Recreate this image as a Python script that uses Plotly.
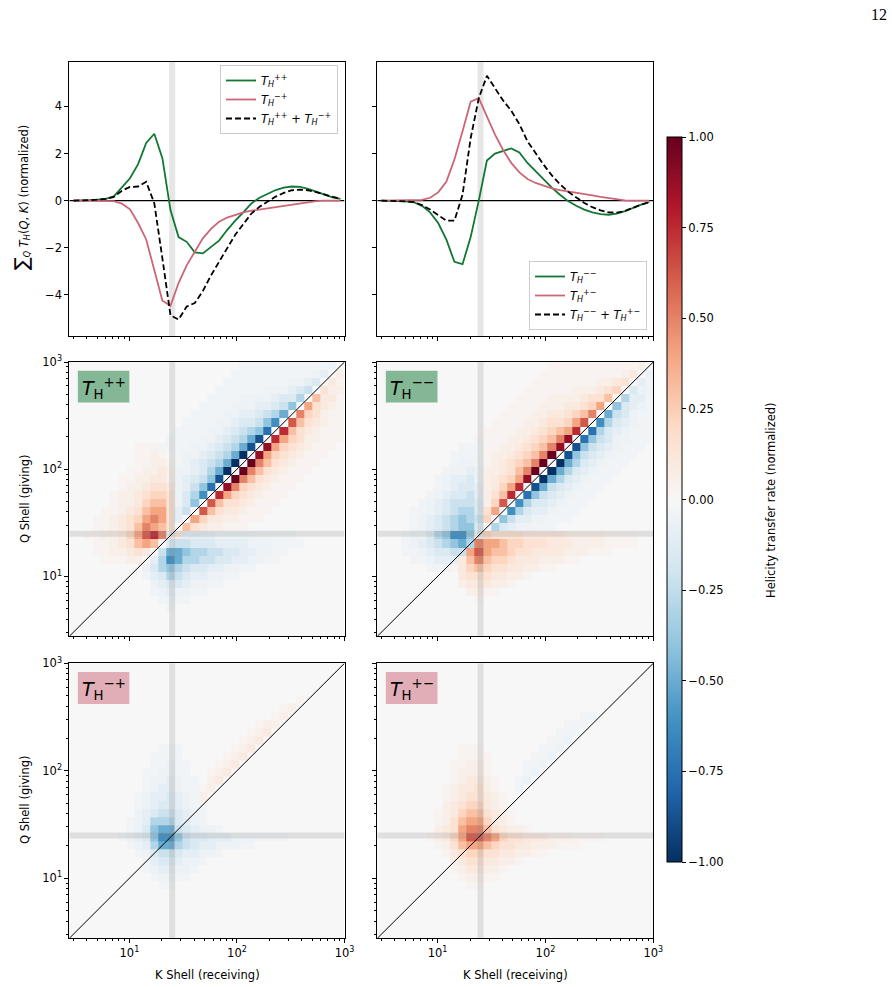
import math
import plotly.graph_objects as go

# ---------------- data ----------------
# shell bin edges (K and Q shells, log spaced) and shell centres
shell_edges = [2.762, 3.285, 3.906, 4.645, 5.524, 6.570, 7.813, 9.291, 11.05, 13.14,
               15.63, 18.58, 22.10, 26.28, 31.25, 37.16, 44.19, 52.56, 62.50, 74.33,
               88.39, 105.1, 125.0, 148.7, 176.8, 210.2, 250.0, 297.3, 353.6, 420.4,
               500.0, 594.6, 707.1, 840.9, 1000.0]
shell_centers = [3.012, 3.582, 4.259, 5.065, 6.024, 7.164, 8.520, 10.13, 12.05, 14.33,
                 17.04, 20.26, 24.10, 28.66, 34.08, 40.53, 48.19, 57.31, 68.16, 81.06,
                 96.39, 114.6, 136.3, 162.1, 192.8, 229.3, 272.6, 324.2, 385.6, 458.5,
                 545.3, 648.4, 771.1, 917.0]
forcing_k = 25.0

# sum over Q of T_H(Q,K), normalized
T_pp_sum = [0.0, 0.0, 0.02, 0.04, 0.07, 0.18, 0.55, 0.95, 1.55, 2.45, 2.84, 1.8, -0.4,
            -1.55, -1.75, -2.2, -2.24, -1.98, -1.7, -1.25, -0.85, -0.5, -0.12, 0.12,
            0.3, 0.45, 0.55, 0.6, 0.58, 0.5, 0.38, 0.26, 0.14, 0.07]
T_mp_sum = [0.0, 0.0, 0.0, 0.0, 0.0, -0.02, -0.13, -0.37, -0.95, -1.65, -2.95, -4.25,
            -4.47, -3.5, -2.75, -2.15, -1.6, -1.2, -0.9, -0.72, -0.6, -0.5, -0.43,
            -0.38, -0.33, -0.28, -0.22, -0.16, -0.11, -0.06, -0.02, 0.0, 0.0, 0.0]
T_mm_sum = [0.0, 0.0, 0.0, -0.03, -0.07, -0.22, -0.5, -0.95, -1.65, -2.6, -2.7, -1.55,
            0.0, 1.7, 2.0, 2.1, 2.22, 2.05, 1.6, 1.25, 0.9, 0.55, 0.25, -0.02, -0.22,
            -0.38, -0.5, -0.57, -0.6, -0.55, -0.45, -0.3, -0.17, -0.07]
T_pm_sum = [0.0, 0.0, 0.0, 0.0, 0.01, 0.03, 0.12, 0.35, 0.8, 1.75, 2.95, 4.2, 4.35,
            3.6, 2.8, 2.15, 1.6, 1.2, 0.92, 0.75, 0.62, 0.52, 0.45, 0.4, 0.35, 0.28,
            0.22, 0.16, 0.1, 0.04, 0.01, 0.0, 0.0, 0.0]

# level key for the shell-to-shell maps (upper case = positive, lower case = negative)
level_key = {'.': 0.0,
             'A': 0.03, 'B': 0.06, 'C': 0.10, 'D': 0.15, 'E': 0.22, 'F': 0.30,
             'G': 0.40, 'H': 0.50, 'I': 0.62, 'J': 0.75, 'K': 0.88, 'L': 1.0,
             'a': -0.03, 'b': -0.06, 'c': -0.10, 'd': -0.15, 'e': -0.22, 'f': -0.30,
             'g': -0.40, 'h': -0.50, 'i': -0.62, 'j': -0.75, 'k': -0.88, 'l': -1.0}

# rows: top (largest Q shell) to bottom; columns: K shells left to right
grid_pp = [
    ".....................aaaaaaaaaaab.",
    "....................aaaaaaaaaabc.B",
    "...................aaaaaaaabbcd.CA",
    "..................aaaaaabbbcde.DBB",
    ".................aaaabbbbcddf.FCCA",
    "................aaaabbbccdeg.GDCBA",
    "...............aaaabbccdefh.HEDBAA",
    "..............aaaabbcddegi.IFDCBAA",
    ".............aaaabbcdefgj.JFDCBAAA",
    "............aaaabbcdefhk.JGEDBBAAA",
    "........AAAaaaabbcdefhk.KGEDCBAAA.",
    "........AABA.abbcdefhl.KGEDCBAAA..",
    "........AABBAabcdefhl.LHFDCBAAA...",
    ".......AABBCBbbcdfhl.LHFDCBAAA....",
    "......AABBCCBbcdegk.LHFDCBAAA.....",
    "......ABBCDDCbcegj.KHEDCBAAA......",
    ".....ABBCDEEDbdfi.JGEDCBAAA.......",
    ".....ABBCEFFDbdg.IFDDCBAAA........",
    "....AABCDFGGDce.IFDCCBAAA.........",
    "...AABCDEGHGDc.GECCBBAAA..........",
    "...AABCDFHGFD.FDCBBAAA............",
    "..AABBCEGIJH.Cccccbbbbbaaaaa......",
    "...AABCDFGF.deedddccccbbbaaaa.....",
    "...AABBCDC.ehhgffeeddccbbaa.......",
    "....AAABB.cfihffeeddccbbaa........",
    ".........bdfgfeddccbbaa...........",
    ".........acdfedccbbaa.............",
    "..........bcddcbbaa...............",
    "..........abcbbaa.................",
    "...........abaa...................",
    "............a.....................",
    "..................................",
    "..................................",
    "..................................",
]
grid_mm = [
    ".....................AAAAAAAAAAAB.",
    "....................AAAAAAAAAABC.b",
    "...................AAAAAAAABBCD.ca",
    "..................AAAAAABBBCDE.dbb",
    ".................AAAABBBBCDDF.fcca",
    "................AAAABBBCCDEG.gdcba",
    "...............AAAABBCCDEFH.hedbaa",
    "..............AAAABBCDDEGI.ifdcbaa",
    ".............AAAABBCDEFGJ.jfdcbaaa",
    "............AAAABBCDEFHK.jgedbbaaa",
    "..........aaaAABBCDEFHK.kgedcbaaa.",
    ".........aaaaABBCDEFHL.kgedcbaaa..",
    ".........abbaABCDEFHL.lhfdcbaaa...",
    "........abbcbBBCDFHL.lhfdcbaaa....",
    ".......abccdbBCDEGK.lhfdcbaaa.....",
    ".......abcddcBCEGJ.khedcbaaa......",
    "......abcddecBDFJ.jgedcbaaa.......",
    ".....abcdeeedBEI.ifddcbaaa........",
    "....aabcdeffdDG.ifdccbaaa.........",
    "....abcdefgfeE.geccbbaaa..........",
    "....abcdefggd.fdcbbaaa............",
    "...abbdfgiig.EDDDDCCCCCBBBBBAAAA..",
    "...abcdefghfHGGFEEDDDCCCBBBBAAAA..",
    "...aabcddeeGIGFFEDDCCCCBBBAAA.....",
    "....aabcccCFHFEEDCCCBBBAA.........",
    "......aabACEFEDDCCBBAA............",
    "..........CDDDCCBBA...............",
    "..........BCCCBBA.................",
    "...........BBAA...................",
    "............A.....................",
    "..................................",
    "..................................",
    "..................................",
    "..................................",
]
grid_mp = [
    "..................................",
    "..................................",
    "..................................",
    "..................................",
    "............................A.....",
    "..........................AB......",
    ".........................AB.......",
    ".......................ABB........",
    "......................ABC.........",
    ".....................ABC..........",
    "...........aaa......ABC...........",
    "..........aaaa.....ABC............",
    "..........aabaa...ABC.............",
    ".........aabbaa..ABC..............",
    ".........abbcbaa.BC...............",
    ".........abccbaaAB................",
    "........abccdcbaB.................",
    "........abcddcbaa.................",
    "........bcdeedcba.................",
    ".......abcfffdcba.................",
    ".......abdghhedcbba...............",
    "......abcdgiigeddcccbbbaaaa.......",
    ".......abcfhhfedccbbbaa...........",
    "........abdeedccbba...............",
    ".........acddcbba.................",
    ".........abccbba..................",
    "..........abbaa...................",
    "...........aa.....................",
    "..................................",
    "..................................",
    "..................................",
    "..................................",
    "..................................",
    "..................................",
]
grid_pm = [
    "..................................",
    "..................................",
    "..................................",
    "..................................",
    "..................................",
    "..................................",
    ".........................aa.......",
    ".......................aaa........",
    "......................aaa.........",
    ".....................aab..........",
    "..........AAA.......aab...........",
    "..........AAAA.....aab............",
    ".........AABBA....aab.............",
    ".........ABBBA....ab..............",
    ".........ABCCBA..ab...............",
    "........ABCCDBA..a................",
    "........ABCDDCBA..................",
    "........BCDEECBA..................",
    ".......ABCEFFDCBA.................",
    ".......ABDFGGECBA.................",
    ".......BCDGHHFDCBBA...............",
    "......ABCEGIIHGEDDCCCBBBAAAA......",
    ".......ABDFGGFEDDCCBBBAAA.........",
    "........ACDEEDDCCBBAA.............",
    ".........BCDDCCBBA................",
    ".........ABCCBBA..................",
    "..........ABBAA...................",
    "...........AA.....................",
    "..................................",
    "..................................",
    "..................................",
    "..................................",
    "..................................",
    "..................................",
]

colorbar_ticks = [-1.0, -0.75, -0.5, -0.25, 0.0, 0.25, 0.5, 0.75, 1.0]
log_major_ticks = [10, 100, 1000]
log_major_text = ["10<sup>1</sup>", "10<sup>2</sup>", "10<sup>3</sup>"]
log_minor_ticks = [3, 4, 5, 6, 7, 8, 9, 20, 30, 40, 50, 60, 70, 80, 90,
                   200, 300, 400, 500, 600, 700, 800, 900]
line_y_ticks = [-4, -2, 0, 2, 4]
line_y_range = [-5.75, 5.9]

# ---------------- styling ----------------
W, H = 892, 987
FONT = "DejaVu Sans"
FS = 11.5
GREEN = "#117733"
ROSE = "#CC6677"
BAND = "rgba(128,128,128,0.2)"
RDBU_R = [[0.0, "#053061"], [0.1, "#2166ac"], [0.2, "#4393c3"], [0.3, "#92c5de"],
          [0.4, "#d1e5f0"], [0.5, "#f7f7f7"], [0.6, "#fddbc7"], [0.7, "#f4a582"],
          [0.8, "#d6604d"], [0.9, "#b2182b"], [1.0, "#67001f"]]


def fmt_minus(v, f="{:.2f}"):
    s = f.format(v)
    return s.replace("-", "\u2212")


def decode(rows):
    z = []
    for r in reversed(rows):
        r = (r + "." * 34)[:34]
        z.append([level_key.get(c, 0.0) for c in r])
    return z


xdom = {1: [69.3 / W, 344.5 / W], 2: [377.3 / W, 653.3 / W]}
ydom = {1: [1 - 336.0 / H, 1 - 61.7 / H],
        2: [1 - 636.3 / H, 1 - 362.0 / H],
        3: [1 - 938.3 / H, 1 - 663.3 / H]}
log_range = [math.log10(shell_edges[0]), math.log10(shell_edges[-1])]

fig = go.Figure()


def th(sup, italic_h=True):
    h = "<i>H</i>" if italic_h else "H"
    return "<i>T</i><sub>%s</sub><sup>%s</sup>" % (h, sup)


# ---- top row: line plots ----
def line_panel(n, a_vals, b_vals, a_lab, b_lab, legend):
    xa, ya = "x%d" % n, "y%d" % n
    fig.add_trace(go.Scatter(x=[forcing_k, forcing_k], y=line_y_range, mode="lines",
                             line=dict(color=BAND, width=6), showlegend=False,
                             hoverinfo="skip", xaxis=xa, yaxis=ya))
    fig.add_trace(go.Scatter(x=[shell_edges[0], shell_edges[-1]], y=[0, 0], mode="lines",
                             line=dict(color="black", width=1.2), showlegend=False,
                             hoverinfo="skip", xaxis=xa, yaxis=ya))
    fig.add_trace(go.Scatter(x=shell_centers, y=a_vals, mode="lines", name=th(a_lab),
                             line=dict(color=GREEN, width=1.8), legend=legend,
                             xaxis=xa, yaxis=ya))
    fig.add_trace(go.Scatter(x=shell_centers, y=b_vals, mode="lines", name=th(b_lab),
                             line=dict(color=ROSE, width=1.8), legend=legend,
                             xaxis=xa, yaxis=ya))
    total = [p + q for p, q in zip(a_vals, b_vals)]
    fig.add_trace(go.Scatter(x=shell_centers, y=total, mode="lines",
                             name=th(a_lab) + " + " + th(b_lab),
                             line=dict(color="black", width=1.8, dash="6px,3px"),
                             legend=legend, xaxis=xa, yaxis=ya))


line_panel(1, T_pp_sum, T_mp_sum, "++", "\u2212+", "legend")
line_panel(2, T_mm_sum, T_pm_sum, "\u2212\u2212", "+\u2212", "legend2")

# ---- heatmaps ----
heat = {3: grid_pp, 4: grid_mm, 5: grid_mp, 6: grid_pm}
for n, g in heat.items():
    xa, ya = "x%d" % n, "y%d" % n
    fig.add_trace(go.Heatmap(z=decode(g), x=shell_edges, y=shell_edges,
                             coloraxis="coloraxis", xaxis=xa, yaxis=ya,
                             hoverinfo="skip"))
    fig.add_trace(go.Scatter(x=[forcing_k, forcing_k], y=[shell_edges[0], shell_edges[-1]],
                             mode="lines", line=dict(color=BAND, width=6),
                             showlegend=False, hoverinfo="skip", xaxis=xa, yaxis=ya))
    fig.add_trace(go.Scatter(x=[shell_edges[0], shell_edges[-1]], y=[forcing_k, forcing_k],
                             mode="lines", line=dict(color=BAND, width=6),
                             showlegend=False, hoverinfo="skip", xaxis=xa, yaxis=ya))
    fig.add_trace(go.Scatter(x=[shell_edges[0], shell_edges[-1]],
                             y=[shell_edges[0], shell_edges[-1]],
                             mode="lines", line=dict(color="black", width=1),
                             showlegend=False, hoverinfo="skip", xaxis=xa, yaxis=ya))

# ---- axes ----
common = dict(showline=True, linecolor="black", linewidth=1, mirror=True,
              ticks="outside", ticklen=4, tickwidth=1, tickcolor="black",
              showgrid=False, zeroline=False, automargin=False,
              tickfont=dict(family=FONT, size=FS, color="black"))
minor = dict(tickmode="array", tickvals=log_minor_ticks, ticks="outside",
             ticklen=2, tickwidth=0.8, tickcolor="black", showgrid=False)

layout_axes = {}
for n in range(1, 7):
    row = (n - 1) // 2 + 1
    col = (n - 1) % 2 + 1
    xk = "xaxis" if n == 1 else "xaxis%d" % n
    yk = "yaxis" if n == 1 else "yaxis%d" % n
    layout_axes[xk] = dict(common, type="log", range=log_range, domain=xdom[col],
                           anchor="y%d" % n if n > 1 else "y",
                           tickmode="array", tickvals=log_major_ticks,
                           ticktext=log_major_text, minor=minor,
                           showticklabels=(row == 3))
    if row == 1:
        layout_axes[yk] = dict(common, type="linear", range=line_y_range,
                               domain=ydom[row], anchor="x%d" % n if n > 1 else "x",
                               tickmode="array", tickvals=line_y_ticks,
                               ticktext=[fmt_minus(v, "{:d}") for v in line_y_ticks],
                               showticklabels=(col == 1))
    else:
        layout_axes[yk] = dict(common, type="log", range=log_range,
                               domain=ydom[row], anchor="x%d" % n,
                               tickmode="array", tickvals=log_major_ticks,
                               ticktext=log_major_text, minor=minor,
                               showticklabels=(col == 1))

fig.update_layout(**layout_axes)

# ---- annotations & shapes ----
ann = []
shapes = []


def ptxt(text, x, y, size=FS, angle=0, family=FONT, **kw):
    ann.append(dict(text=text, x=x / W, y=1 - y / H, xref="paper", yref="paper",
                    showarrow=False, textangle=angle, xanchor="center", yanchor="middle",
                    font=dict(family=family, size=size, color="black"), **kw))


ptxt("<span style='font-size:19px'>\u2211</span><sub><i>Q</i></sub> "
     "<i>T</i><sub><i>H</i></sub>(<i>Q</i>, <i>K</i>) (normalized)", 21, 198, angle=-90)
ptxt("Q Shell (giving)", 25, 499, angle=-90)
ptxt("Q Shell (giving)", 25, 800, angle=-90)
ptxt("K Shell (receiving)", 207, 975)
ptxt("K Shell (receiving)", 515, 975)
ptxt("Helicity transfer rate (normalized)", 771, 500, angle=-90)
ptxt("12", 879, 14, size=16, family="Liberation Serif")

labels = {3: ("++", "rgba(17,119,51,0.5)"), 4: ("\u2212\u2212", "rgba(17,119,51,0.5)"),
          5: ("\u2212+", "rgba(204,102,119,0.5)"), 6: ("+\u2212", "rgba(204,102,119,0.5)")}
for n, (sup, col) in labels.items():
    shapes.append(dict(type="rect", xref="x%d domain" % n, yref="y%d domain" % n,
                       x0=0.031, x1=0.218, y0=0.852, y1=0.968, fillcolor=col,
                       line=dict(width=0), layer="above"))
    ann.append(dict(text=th(sup, italic_h=False), xref="x%d domain" % n,
                    yref="y%d domain" % n, x=0.125, y=0.905, showarrow=False,
                    xanchor="center", yanchor="middle",
                    font=dict(family=FONT, size=19, color="black")))

fig.update_layout(
    width=W, height=H, margin=dict(l=0, r=0, t=0, b=0, pad=0, autoexpand=False),
    paper_bgcolor="white", plot_bgcolor="white",
    font=dict(family=FONT, size=FS, color="black"),
    annotations=ann, shapes=shapes,
    coloraxis=dict(
        colorscale=RDBU_R, cmin=-1, cmax=1,
        colorbar=dict(x=667 / W, xanchor="left", xpad=0, ypad=0,
                      y=1 - 499.5 / H, yanchor="middle", len=(862 - 137) / H,
                      lenmode="fraction", thickness=15, thicknessmode="pixels",
                      outlinewidth=1, outlinecolor="black",
                      tickmode="array", tickvals=colorbar_ticks,
                      ticktext=[fmt_minus(v) for v in colorbar_ticks],
                      ticks="outside", ticklen=4, tickcolor="black",
                      tickfont=dict(family=FONT, size=FS, color="black"))),
    legend=dict(x=338 / W, xanchor="right", y=1 - 65 / H, yanchor="top",
                bgcolor="rgba(255,255,255,0.8)", bordercolor="#cccccc", borderwidth=1,
                font=dict(family=FONT, size=FS, color="black"), itemwidth=30,
                tracegroupgap=0),
    legend2=dict(x=647 / W, xanchor="right", y=1 - 330 / H, yanchor="bottom",
                 bgcolor="rgba(255,255,255,0.8)", bordercolor="#cccccc", borderwidth=1,
                 font=dict(family=FONT, size=FS, color="black"), itemwidth=30,
                 tracegroupgap=0),
)

fig.write_html("out.html")
